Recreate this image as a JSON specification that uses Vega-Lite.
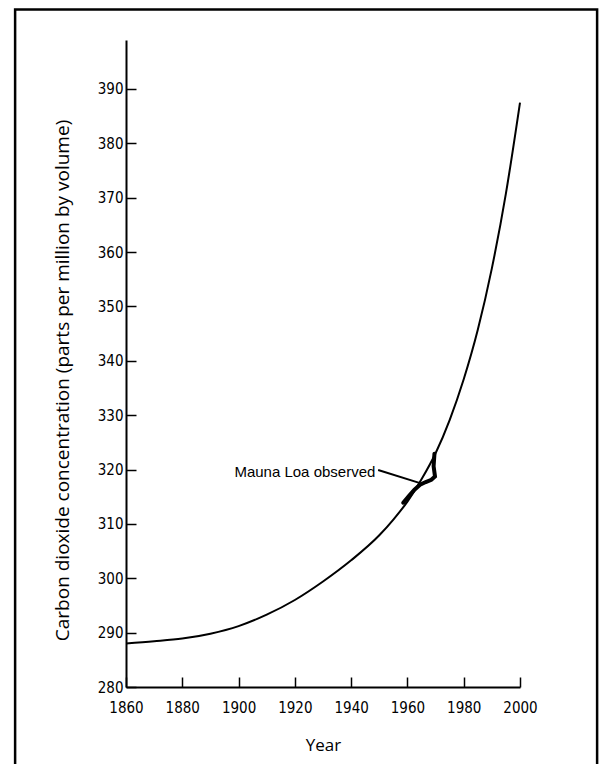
{
  "$schema": "https://vega.github.io/schema/vega-lite/v6.json",
  "width": 394,
  "height": 647,
  "autosize": {"type": "none"},
  "padding": {"left": 126, "top": 40, "right": 79, "bottom": 77},
  "background": "white",
  "config": {
    "view": {"stroke": null},
    "font": "Liberation Sans Narrow, DejaVu Sans Condensed, sans-serif",
    "axis": {
      "grid": false,
      "domainColor": "black",
      "domainWidth": 2,
      "tickColor": "black",
      "tickWidth": 1.5,
      "tickSize": -10,
      "labelColor": "black",
      "labelFontSize": 15,
      "titleColor": "black",
      "titleFont": "Open Sans",
      "titleFontSize": 19,
      "titleFontWeight": "normal"
    }
  },
  "datasets": {
    "curve": [
      {"year": 1860, "ppm": 288.0},
      {"year": 1870, "ppm": 288.4},
      {"year": 1880, "ppm": 288.9},
      {"year": 1890, "ppm": 289.8},
      {"year": 1900, "ppm": 291.2},
      {"year": 1910, "ppm": 293.3},
      {"year": 1920, "ppm": 296.0},
      {"year": 1930, "ppm": 299.4},
      {"year": 1940, "ppm": 303.3},
      {"year": 1950, "ppm": 307.9},
      {"year": 1955, "ppm": 310.8},
      {"year": 1960, "ppm": 314.1},
      {"year": 1965, "ppm": 318.2},
      {"year": 1970, "ppm": 323.0},
      {"year": 1975, "ppm": 329.1},
      {"year": 1980, "ppm": 336.6},
      {"year": 1985, "ppm": 345.7},
      {"year": 1990, "ppm": 357.0},
      {"year": 1995, "ppm": 370.8},
      {"year": 2000, "ppm": 387.5}
    ],
    "observed": [
      {"i": 1, "year": 1958.5, "ppm": 313.9},
      {"i": 2, "year": 1960.5, "ppm": 315.1},
      {"i": 3, "year": 1962.5, "ppm": 316.3},
      {"i": 4, "year": 1964.5, "ppm": 317.2},
      {"i": 5, "year": 1966.5, "ppm": 317.7},
      {"i": 6, "year": 1968.5, "ppm": 318.1},
      {"i": 7, "year": 1969.8, "ppm": 318.7},
      {"i": 8, "year": 1969.3, "ppm": 320.6},
      {"i": 9, "year": 1969.6, "ppm": 322.9}
    ],
    "arrow": [
      {"year": 1949.6, "ppm": 319.9},
      {"year": 1964.5, "ppm": 317.5}
    ],
    "label": [
      {"year": 1948.6, "ppm": 319.6, "text": "Mauna Loa observed"}
    ]
  },
  "layer": [
    {
      "data": {"name": "curve"},
      "mark": {"type": "line", "color": "black", "strokeWidth": 2, "interpolate": "monotone"},
      "encoding": {
        "x": {
          "field": "year",
          "type": "quantitative",
          "scale": {"domain": [1860, 2000], "nice": false, "zero": false},
          "axis": {
            "title": "Year",
            "titleFontSize": 17,
            "values": [1860, 1870, 1880, 1890, 1900, 1910, 1920, 1930, 1940, 1950, 1960, 1970, 1980, 1990, 2000],
            "labelExpr": "datum.value % 20 == 0 ? datum.value + '' : ''",
            "labelPadding": 23,
            "labelFlush": false,
            "titlePadding": 22
          }
        },
        "y": {
          "field": "ppm",
          "type": "quantitative",
          "scale": {"domain": [280, 399], "nice": false, "zero": false},
          "axis": {
            "title": "Carbon dioxide concentration (parts per million by volume)",
            "values": [280, 290, 300, 310, 320, 330, 340, 350, 360, 370, 380, 390],
            "labelPadding": 13,
            "labelFlush": false,
            "titleAngle": 270,
            "titleAlign": "center",
            "titleBaseline": "middle",
            "titleX": -64,
            "titleY": 340
          }
        }
      }
    },
    {
      "data": {"name": "observed"},
      "mark": {"type": "line", "color": "black", "strokeWidth": 4, "strokeCap": "round"},
      "encoding": {
        "x": {"field": "year", "type": "quantitative"},
        "y": {"field": "ppm", "type": "quantitative"},
        "order": {"field": "i", "type": "quantitative"}
      }
    },
    {
      "data": {"name": "arrow"},
      "mark": {"type": "line", "color": "black", "strokeWidth": 2},
      "encoding": {
        "x": {"field": "year", "type": "quantitative"},
        "y": {"field": "ppm", "type": "quantitative"}
      }
    },
    {
      "data": {"name": "label"},
      "mark": {"type": "text", "align": "right", "baseline": "middle", "font": "Liberation Sans", "fontSize": 15, "color": "black"},
      "encoding": {
        "x": {"field": "year", "type": "quantitative"},
        "y": {"field": "ppm", "type": "quantitative"},
        "text": {"field": "text"}
      }
    },
    {
      "data": {"values": [{"k": 1}]},
      "mark": {"type": "rect", "fill": "transparent", "stroke": "black", "strokeWidth": 2.5, "clip": false},
      "encoding": {
        "x": {"datum": 1820.6, "type": "quantitative"},
        "x2": {"datum": 2027.4},
        "y": {"datum": 404.6, "type": "quantitative"},
        "y2": {"datum": 264.5}
      }
    }
  ]
}
